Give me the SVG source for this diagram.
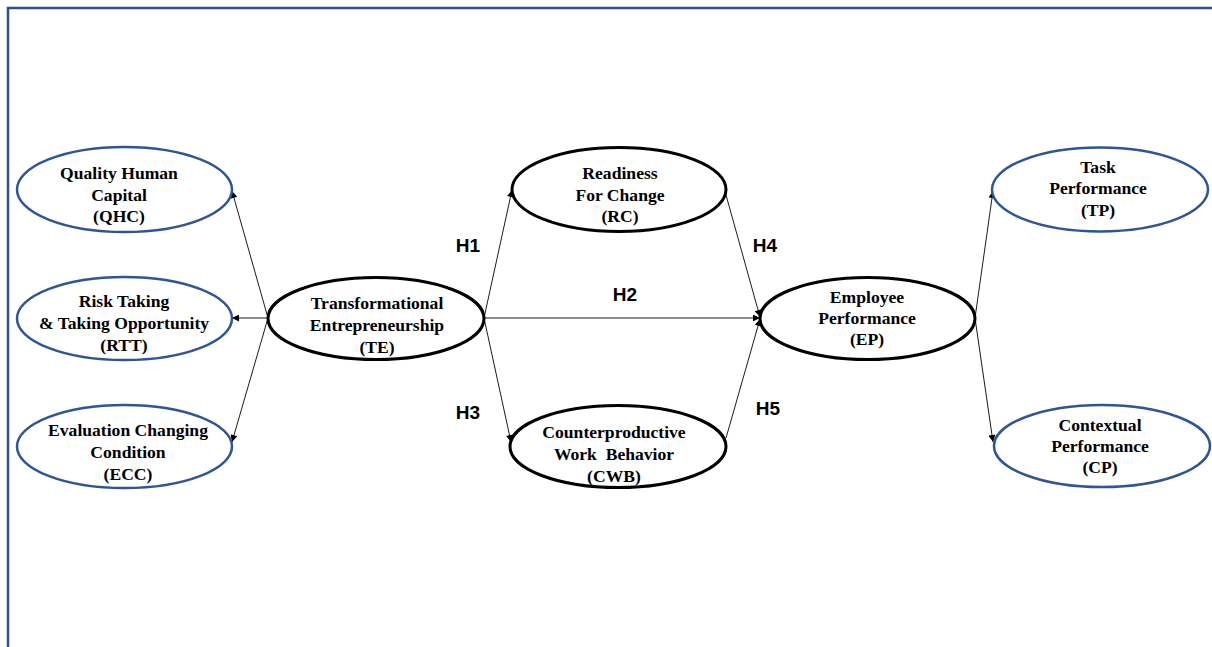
<svg xmlns="http://www.w3.org/2000/svg" width="1212" height="647" viewBox="0 0 1212 647">
<defs>
<marker id="ah" viewBox="0 0 10 10" refX="10" refY="5" markerWidth="8" markerHeight="7" markerUnits="userSpaceOnUse" orient="auto">
<path d="M0,0 L10,5 L0,10 z" fill="#000"/>
</marker>
<style>
.blue{fill:#fff;stroke:#2f5597;stroke-width:2.5}
.blk{fill:#fff;stroke:#000;stroke-width:3}
.t{font-family:"Liberation Serif","Times New Roman",serif;font-weight:bold;font-size:17.6px;fill:#000;text-anchor:middle}
.h{font-family:"Liberation Sans",Arial,sans-serif;font-weight:bold;font-size:19px;fill:#000;text-anchor:middle}
.c{stroke:#000;stroke-width:0.9;fill:none;marker-end:url(#ah)}
</style>
</defs>
<rect width="1212" height="647" fill="#fff"/>
<path d="M8,647 L8,8 L1212,8" fill="none" stroke="#2f4f8f" stroke-width="2.5"/>
<g id="connectors">
<line class="c" x1="268" y1="318" x2="232" y2="191"/>
<line class="c" x1="268" y1="318" x2="232" y2="318"/>
<line class="c" x1="268" y1="318" x2="232" y2="442"/>
<line class="c" x1="484" y1="318" x2="512" y2="190"/>
<line class="c" x1="484" y1="318" x2="760" y2="318"/>
<line class="c" x1="484" y1="318" x2="511" y2="442"/>
<line class="c" x1="726" y1="195" x2="760" y2="317"/>
<line class="c" x1="726" y1="438" x2="760" y2="319"/>
<line class="c" x1="975" y1="318" x2="993" y2="191"/>
<line class="c" x1="975" y1="318" x2="993" y2="442"/>
<text class="h" x="468" y="252">H1</text>
<text class="h" x="625" y="301">H2</text>
<text class="h" x="468" y="419">H3</text>
<text class="h" x="765" y="252">H4</text>
<text class="h" x="768" y="415">H5</text>
</g>
<g id="QHC"><ellipse class="blue" cx="124.5" cy="189.5" rx="107.5" ry="42.5"/>
<text class="t" x="119" y="179">Quality Human</text><text class="t" x="119" y="201">Capital</text><text class="t" x="119" y="222">(QHC)</text></g>
<g id="RTT"><ellipse class="blue" cx="124.5" cy="318.5" rx="107.5" ry="41.5"/>
<text class="t" x="124" y="307">Risk Taking</text><text class="t" x="124" y="329">&amp; Taking Opportunity</text><text class="t" x="124" y="351">(RTT)</text></g>
<g id="ECC"><ellipse class="blue" cx="124.5" cy="446.5" rx="107.5" ry="41.5"/>
<text class="t" x="128" y="436">Evaluation Changing</text><text class="t" x="128" y="458">Condition</text><text class="t" x="128" y="480">(ECC)</text></g>
<g id="TE"><ellipse class="blk" cx="376" cy="318.5" rx="108" ry="41"/>
<text class="t" x="377" y="309">Transformational</text><text class="t" x="377" y="331">Entrepreneurship</text><text class="t" x="377" y="353">(TE)</text></g>
<g id="RC"><ellipse class="blk" cx="619" cy="189.5" rx="107" ry="42"/>
<text class="t" x="620" y="179">Readiness</text><text class="t" x="620" y="201">For Change</text><text class="t" x="620" y="222">(RC)</text></g>
<g id="CWB"><ellipse class="blk" cx="618" cy="446.5" rx="108" ry="41"/>
<text class="t" x="614" y="438">Counterproductive</text><text class="t" x="614" y="460" style="white-space:pre">Work  Behavior</text><text class="t" x="614" y="482">(CWB)</text></g>
<g id="EP"><ellipse class="blk" cx="867.5" cy="318.5" rx="107.5" ry="41"/>
<text class="t" x="867" y="303">Employee</text><text class="t" x="867" y="324">Performance</text><text class="t" x="867" y="345">(EP)</text></g>
<g id="TP"><ellipse class="blue" cx="1100" cy="189.5" rx="108" ry="42"/>
<text class="t" x="1098" y="173">Task</text><text class="t" x="1098" y="194">Performance</text><text class="t" x="1098" y="216">(TP)</text></g>
<g id="CP"><ellipse class="blue" cx="1102" cy="446" rx="108" ry="41"/>
<text class="t" x="1100" y="431">Contextual</text><text class="t" x="1100" y="452">Performance</text><text class="t" x="1100" y="473">(CP)</text></g>
</svg>
